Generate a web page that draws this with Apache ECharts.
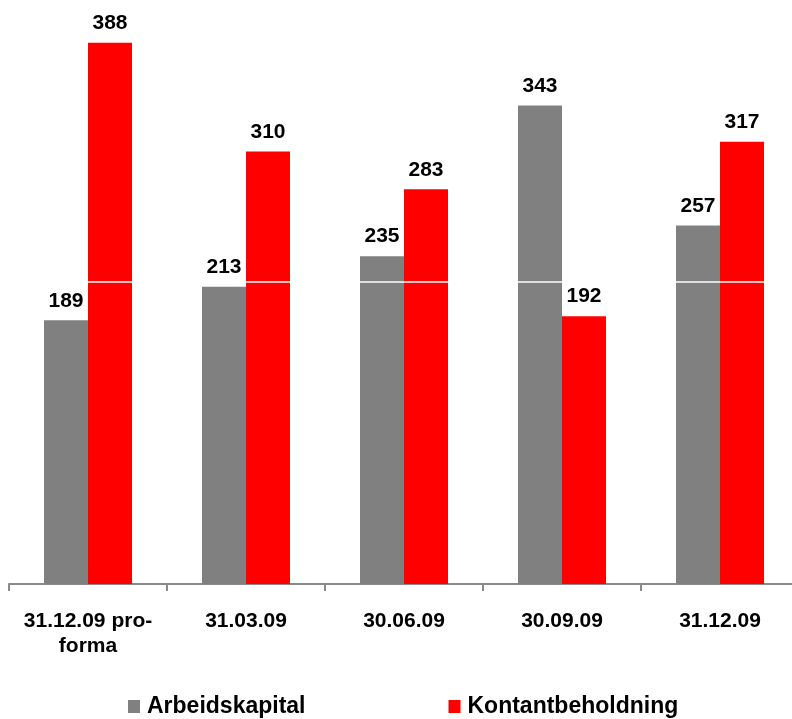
<!DOCTYPE html>
<html>
<head>
<meta charset="utf-8">
<script src="https://cdn.jsdelivr.net/npm/echarts@6/dist/echarts.min.js"></script>
<style>
html,body{margin:0;padding:0;background:#fff;}
#c{width:792px;height:719px;}
</style>
</head>
<body>
<div id="c"></div>
<script>
const categories = ['31.12.09 pro-\nforma', '31.03.09', '30.06.09', '30.09.09', '31.12.09'];
const seriesNames = ['Arbeidskapital', 'Kontantbeholdning'];
const arbeidskapital = [189, 213, 235, 343, 257];
const kontantbeholdning = [388, 310, 283, 192, 317];
const refLineValue = 216.6;

const FONT = '"Liberation Sans", Arial, Helvetica, sans-serif';
const chart = echarts.init(document.getElementById('c'));
const labelCfg = {
  show: true, position: 'top', distance: 9,
  color: '#000', fontFamily: FONT, fontWeight: 'bold', fontSize: 21
};
chart.setOption({
  animation: false,
  backgroundColor: '#fff',
  grid: { left: 9, width: 790, top: 26, bottom: 135, containLabel: false, outerBoundsMode: 'none' },
  legend: {
    left: 123, top: 690,
    itemWidth: 12, itemHeight: 13, itemGap: 143,
    icon: 'rect',
    textStyle: { fontFamily: FONT, fontWeight: 'bold', fontSize: 23, color: '#000', padding: [0,0,0,2] },
    data: seriesNames
  },
  xAxis: {
    type: 'category',
    data: categories,
    axisLine: { show: true, lineStyle: { color: '#8a8a8a', width: 2 } },
    axisTick: { show: true, length: 7, lineStyle: { color: '#8a8a8a', width: 2 } },
    axisLabel: {
      interval: 0, hideOverlap: false,
      margin: 25, color: '#000', fontFamily: FONT, fontWeight: 'bold', fontSize: 21, lineHeight: 25
    }
  },
  yAxis: {
    type: 'value', min: 0, max: 400, show: false,
    splitLine: { show: false }
  },
  series: [
    {
      name: seriesNames[0], type: 'bar', data: arbeidskapital,
      barWidth: 44, barGap: '0%',
      itemStyle: { color: '#808080' },
      label: labelCfg
    },
    {
      name: seriesNames[1], type: 'bar', data: kontantbeholdning,
      barWidth: 44, barGap: '0%',
      itemStyle: { color: '#ff0000' },
      label: labelCfg,
      markLine: {
        silent: true, symbol: 'none', z: 10,
        label: { show: false },
        lineStyle: { color: '#ffffff', width: 1.5, type: 'solid' },
        data: [{ yAxis: refLineValue }]
      }
    }
  ]
});
</script>
</body>
</html>
